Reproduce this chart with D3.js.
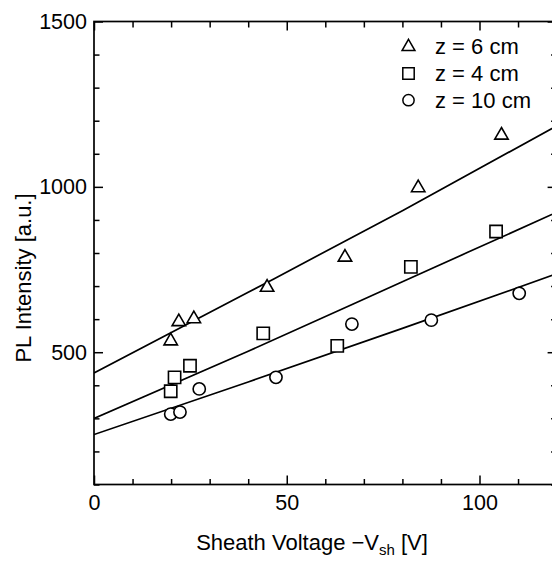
<!DOCTYPE html>
<html>
<head>
<meta charset="utf-8">
<script src="https://cdn.jsdelivr.net/npm/d3@7/dist/d3.min.js"></script>
<style>
  html, body { margin: 0; padding: 0; background: #fff; }
  svg { display: block; }
  text { font-family: "Liberation Sans", Arial, Helvetica, sans-serif; fill: #000; }
</style>
</head>
<body>
<div id="chart"></div>
<script>
// Sheath voltage -V_sh [V] and PL intensity [a.u.] for each axial position z
const voltage6   = [19.9, 22.0, 25.9, 44.9, 65.1, 84.1, 105.7];
const intensity6 = [534, 592, 601, 696, 787, 997, 1156];

const voltage4   = [19.9, 20.9, 24.9, 43.9, 63.1, 82.2, 104.3];
const intensity4 = [382, 424, 459, 557, 519, 758, 865];

const voltage10   = [19.9, 22.3, 27.3, 47.2, 66.9, 87.5, 110.3];
const intensity10 = [313, 319, 389, 424, 585, 597, 678];

// fitted trend lines, sampled along the voltage axis
const fitVoltage = [0, 40, 80, 120];
const fit6  = [437, 681, 928, 1184];
const fit4  = [300, 503, 713, 923];
const fit10 = [251, 410, 572, 737];

const seriesLabels = ["z = 6 cm", "z = 4 cm", "z = 10 cm"];
const seriesSymbols = [d3.symbolTriangle, d3.symbolSquare, d3.symbolCircle];

const xMajorTicks = [0, 50, 100];
const yMajorTicks = [500, 1000, 1500];

const W = 552, H = 562;
const margin = { left: 94, top: 21.5, right: 556.6, bottom: 484.5 };

const svg = d3.select("#chart").append("svg")
  .attr("width", W).attr("height", H);

const x = d3.scaleLinear().domain([0, 120]).range([margin.left, margin.right]);
const y = d3.scaleLinear().domain([100, 1500]).range([margin.bottom, margin.top]);

const xMinor = d3.range(0, 121, 10).filter(v => !xMajorTicks.includes(v));
const yMinor = d3.range(100, 1501, 100).filter(v => !yMajorTicks.includes(v));

const axisStyle = g => {
  g.select(".domain").remove();
  g.selectAll(".tick line").attr("stroke", "#000").attr("stroke-width", 1.5);
  g.selectAll(".tick text").style("font-size", "21.5px").attr("fill", "#000");
};

// bottom axis
svg.append("g").attr("transform", `translate(0,${margin.bottom})`)
  .call(d3.axisBottom(x).tickValues(xMajorTicks).tickSizeInner(-9).tickSizeOuter(0).tickPadding(10).tickFormat(d3.format("d")))
  .call(axisStyle);
svg.append("g").attr("transform", `translate(0,${margin.bottom})`)
  .call(d3.axisBottom(x).tickValues(xMinor).tickSizeInner(-5.5).tickSizeOuter(0).tickFormat(""))
  .call(axisStyle);
// top axis
svg.append("g").attr("transform", `translate(0,${margin.top})`)
  .call(d3.axisTop(x).tickValues(xMajorTicks).tickSizeInner(-9).tickSizeOuter(0).tickFormat(""))
  .call(axisStyle);
svg.append("g").attr("transform", `translate(0,${margin.top})`)
  .call(d3.axisTop(x).tickValues(xMinor).tickSizeInner(-6).tickSizeOuter(0).tickFormat(""))
  .call(axisStyle);
// left axis
svg.append("g").attr("transform", `translate(${margin.left},0)`)
  .call(d3.axisLeft(y).tickValues(yMajorTicks).tickSizeInner(-9).tickSizeOuter(0).tickPadding(7).tickFormat(d3.format("d")))
  .call(axisStyle);
svg.append("g").attr("transform", `translate(${margin.left},0)`)
  .call(d3.axisLeft(y).tickValues(yMinor).tickSizeInner(-5.5).tickSizeOuter(0).tickFormat(""))
  .call(axisStyle);
// right axis
svg.append("g").attr("transform", `translate(${margin.right},0)`)
  .call(d3.axisRight(y).tickValues(yMajorTicks).tickSizeInner(-9).tickSizeOuter(0).tickFormat(""))
  .call(axisStyle);
svg.append("g").attr("transform", `translate(${margin.right},0)`)
  .call(d3.axisRight(y).tickValues(yMinor).tickSizeInner(-5.5).tickSizeOuter(0).tickFormat(""))
  .call(axisStyle);

// frame
svg.append("rect")
  .attr("x", margin.left).attr("y", margin.top)
  .attr("width", margin.right - margin.left).attr("height", margin.bottom - margin.top)
  .attr("fill", "none").attr("stroke", "#000").attr("stroke-width", 1.7);

// clip for trend lines
svg.append("clipPath").attr("id", "plot-clip").append("rect")
  .attr("x", margin.left).attr("y", margin.top)
  .attr("width", margin.right - margin.left).attr("height", margin.bottom - margin.top);

const line = d3.line()
  .x((d, i) => x(fitVoltage[i]))
  .y(d => y(d))
  .curve(d3.curveMonotoneX);

[fit6, fit4, fit10].forEach(f => {
  svg.append("path")
    .attr("clip-path", "url(#plot-clip)")
    .attr("d", line(f))
    .attr("fill", "none").attr("stroke", "#000").attr("stroke-width", 1.7);
});

// data markers
const series = [
  { xs: voltage6, ys: intensity6, sym: d3.symbolTriangle, size: 78 },
  { xs: voltage4, ys: intensity4, sym: d3.symbolSquare, size: 150 },
  { xs: voltage10, ys: intensity10, sym: d3.symbolCircle, size: 118 }
];

series.forEach(s => {
  svg.append("g").selectAll("path")
    .data(s.xs.map((v, i) => [v, s.ys[i]]))
    .join("path")
    .attr("transform", d => `translate(${x(d[0])},${y(d[1])})`)
    .attr("d", d3.symbol().type(s.sym).size(s.size))
    .attr("fill", "#fff").attr("stroke", "#000").attr("stroke-width", 1.6);
});

// legend
const legend = svg.append("g");
const legendSizes = [72, 130, 100];
seriesLabels.forEach((lab, i) => {
  const cy = 46.8 + i * 26.7;
  legend.append("path")
    .attr("transform", `translate(408.5,${cy})`)
    .attr("d", d3.symbol().type(seriesSymbols[i]).size(legendSizes[i]))
    .attr("fill", "#fff").attr("stroke", "#000").attr("stroke-width", 1.5);
  legend.append("text")
    .attr("x", 435).attr("y", cy + 7.5)
    .style("font-size", "22px")
    .text(lab);
});

// axis titles
const xt = svg.append("text")
  .attr("x", 312).attr("y", 550)
  .attr("text-anchor", "middle")
  .style("font-size", "22px");
xt.append("tspan").text("Sheath Voltage \u2212V");
xt.append("tspan").attr("dy", 5).style("font-size", "15px").text("sh");
xt.append("tspan").attr("dy", -5).text(" [V]");

svg.append("text")
  .attr("transform", "translate(31,278) rotate(-90)")
  .attr("text-anchor", "middle")
  .style("font-size", "22px")
  .text("PL Intensity [a.u.]");
</script>
</body>
</html>
